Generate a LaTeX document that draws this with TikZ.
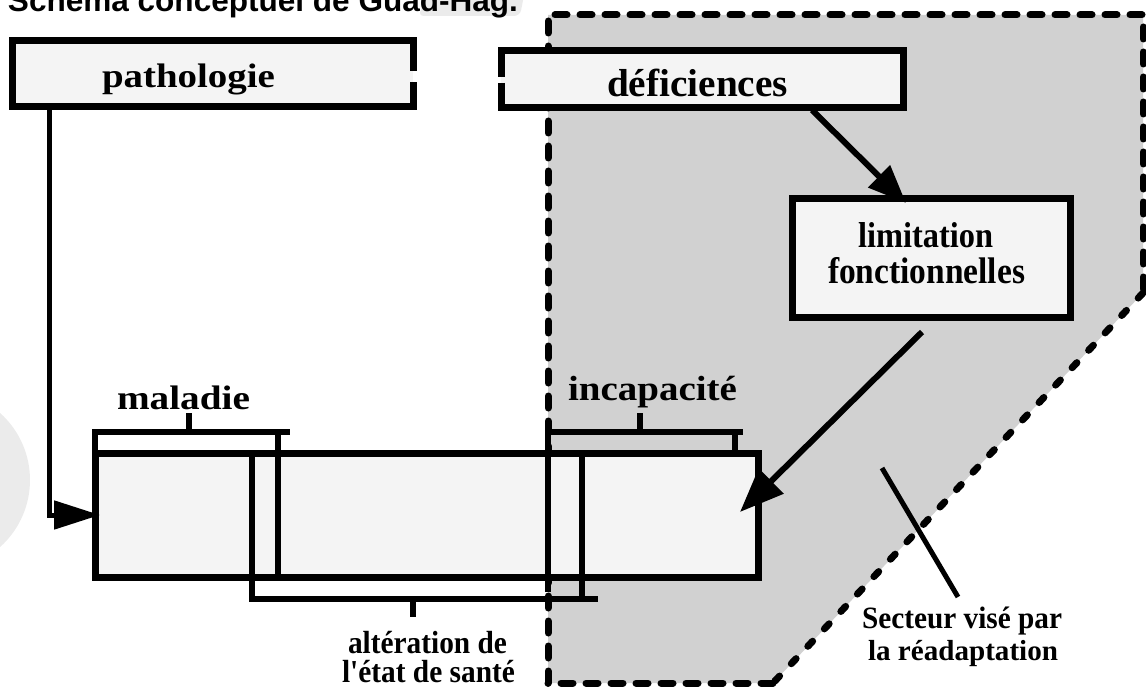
\documentclass[tikz,border=0pt]{standalone}
\usepackage{graphicx}
\usepackage{fontspec}
\setmainfont{Liberation Serif}[Ligatures=TeXOff]
\newfontfamily\titlefont{Liberation Sans}
\usetikzlibrary{arrows.meta}

\definecolor{zonefill}{gray}{0.82}
\definecolor{boxfill}{gray}{0.955}
\definecolor{faint}{gray}{0.92}

% bold serif label stretched to a given width, height kept
\newcommand\fitlabel[3]{\resizebox{#1pt}{\height}{\fontsize{#2pt}{#2pt}\selectfont\bfseries #3}}

\begin{document}
\begin{tikzpicture}[x=1pt, y=-1pt,
  panel/.style={fill=boxfill, draw=none, inner sep=0pt, outer sep=0pt},
  framed/.style={panel, draw=black, line width=7pt},
  frame/.style={line width=7pt, line join=miter},
  txt/.style={inner sep=0pt, outer sep=0pt, anchor=base west},
  zoneline/.style={line width=7pt, line cap=round, dash pattern=on 12pt off 13pt},
  zonediag/.style={line width=7pt, line cap=round, dash pattern=on 7pt off 17pt},
  bar/.style={line width=6pt},
  conn/.style={line width=6pt},
  pointer/.style={line width=5pt}]

\useasboundingbox (0,0) rectangle (1146,690);

% faint background marks
\fill[faint] (-60,480) circle (90);
\fill[faint, rounded corners=6pt] (430,-10) -- (525,-10) -- (520,16) -- (418,16) -- cycle;

% heading, partly above the page edge
\node[txt] (title) at (8,12)
  {\resizebox{510pt}{\height}{\titlefont\bfseries\fontsize{31pt}{31pt}\selectfont Schéma conceptuel de Guad-Hag.}};

% rehabilitation zone
\coordinate (zTL) at (548,15);
\coordinate (zTR) at (1143,15);
\coordinate (zR)  at (1143,293);
\coordinate (zB)  at (773,683);
\coordinate (zBL) at (548,683);
\fill[zonefill] (zTL) -- (zTR) -- (zR) -- (zB) -- (zBL) -- cycle;
\draw[zoneline] (zBL) -- (zTL) -- (zTR) -- (zR);
\draw[zonediag] (zR) -- (zB);
\draw[zoneline] (zB) -- (zBL);

% top boxes
\node[panel, minimum width=401pt, minimum height=66pt] (patho) at (212.5,74) {};
\coordinate (pgapT) at (413,71);
\coordinate (pgapB) at (413,82);
\draw[frame] (pgapT) -- (patho.north east) -- (patho.north west)
  -- (patho.south west) -- (patho.south east) -- (pgapB);

\node[panel, minimum width=402pt, minimum height=57pt] (defic) at (702,79.5) {};
\coordinate (dgapT) at (501,77);
\coordinate (dgapB) at (501,83);
\draw[frame] (dgapB) -- (defic.south west) -- (defic.south east)
  -- (defic.north east) -- (defic.north west) -- (dgapT);

\node[framed, minimum width=278pt, minimum height=119pt] (limit) at (931,257.5) {};

% health-state band
\node[framed, minimum width=663pt, minimum height=124pt] (band) at (426.5,515) {};

% maladie bracket
\draw[bar] (95,453) -- (95,432) -- (290,432);
\draw[bar] (278,432) -- (278,577);
\draw[bar] (189,432) -- (189,413);
% incapacite bracket
\draw[bar] (548,592) -- (548,432) -- (743,432);
\draw[bar] (735,432) -- (735,453);
\draw[bar] (640,432) -- (640,413);
% alteration bracket
\draw[bar] (252,453) -- (252,599) -- (598,599);
\draw[bar] (582,453) -- (582,599);
\draw[bar] (413,599) -- (413,617);

% connectors
\coordinate (pDrop) at (49,0);
\draw[conn, line width=5pt, -{Triangle[length=46pt, width=28pt]}]
  (patho.south -| pDrop) |- ([xshift=5pt]band.west);

\coordinate (dStart) at (812,110);
\coordinate (lTip) at (906,203);
\draw[conn, -{Triangle[length=38pt, width=30pt]}] (dStart) -- (lTip);

\coordinate (lStart) at (922,332);
\coordinate (bTip) at (740,512);
\draw[conn, -{Triangle[length=44pt, width=34pt]}] (lStart) -- (bTip);

\coordinate (sTop) at (882,468);
\coordinate (sEnd) at (958,597);
\draw[pointer] (sTop) -- (sEnd);

% labels
\node[txt] (tPatho) at (102,88) {\fitlabel{173}{34}{pathologie}};
\node[txt] (tDefic) at (607,97) {\fitlabel{181}{39}{déficiences}};
\node[txt] (tLim1) at (858,247) {\fitlabel{135}{36}{limitation}};
\node[txt] (tLim2) at (828,283) {\fitlabel{197}{37}{fonctionnelles}};
\node[txt] (tMal) at (117,409) {\fitlabel{133}{34}{maladie}};
\node[txt] (tInc) at (568,400) {\fitlabel{169}{35}{incapacité}};
\node[txt] (tAlt1) at (348,653) {\fitlabel{159}{32}{altération de}};
\node[txt] (tAlt2) at (342,682) {\fitlabel{173}{32}{l'état de santé}};
\node[txt] (tSec1) at (862,628) {\fitlabel{200}{31}{Secteur visé par}};
\node[txt] (tSec2) at (868,660) {\fitlabel{190}{29}{la réadaptation}};
\end{tikzpicture}
\end{document}
